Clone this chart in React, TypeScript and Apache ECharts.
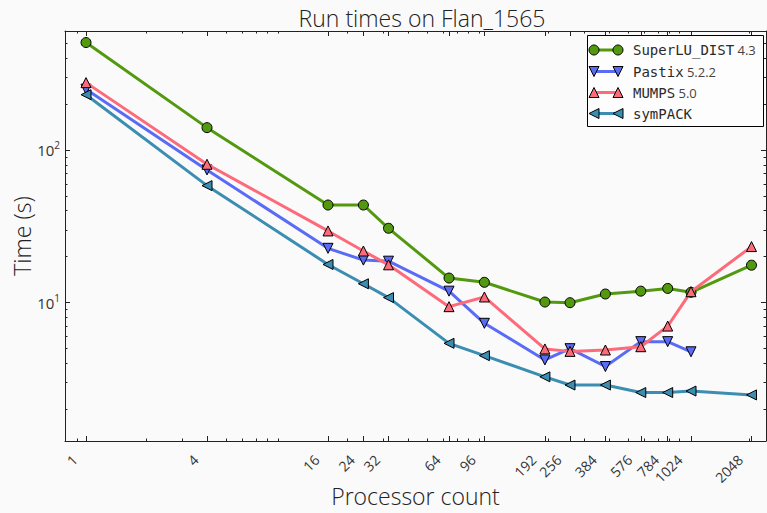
import React, { useEffect, useRef } from "react";
import * as echarts from "echarts";

// ---- data ----
const procs = [1, 4, 16, 24, 32, 64, 96, 192, 256, 384, 576, 784, 1024, 2048];
const superluTimes = [505, 140, 43.6, 43.6, 30.7, 14.5, 13.6, 10.1, 10.0, 11.4, 11.9, 12.4, 11.7, 17.6];
const pastixTimes = [250, 74, 22.7, 19.0, 18.7, 11.9, 7.33, 4.22, 5.0, 3.82, 5.56, 5.56, 4.77, null];
const mumpsTimes = [276, 80.6, 29.5, 21.8, 17.7, 9.42, 10.9, 4.98, 4.8, 4.9, 5.15, 7.03, 11.8, 23.3];
const sympackTimes = [230, 58.4, 17.8, 13.3, 10.8, 5.42, 4.5, 3.27, 2.89, 2.89, 2.58, 2.58, 2.64, 2.49];

const xTickValues = [1, 4, 16, 24, 32, 64, 96, 192, 256, 384, 576, 784, 1024, 2048];
const xMinorTickValues = [0.9, 2, 3, 5, 6, 7, 8, 9, 20, 30, 40, 50, 60, 70, 80, 90, 200, 300, 400, 500, 600, 700, 800, 900, 2000];
const yTickValues = [10, 100];
const yMinorTickValues = [2, 3, 4, 5, 6, 7, 8, 9, 20, 30, 40, 50, 60, 70, 80, 90, 200, 300, 400, 500];

const seriesNames = ["SuperLU_DIST", "Pastix", "MUMPS", "symPACK"];
const seriesVersions = ["4.3", "5.2.2", "5.0", ""];
const titleText = "Run times on Flan_1565";
const xAxisTitle = "Processor count";
const yAxisTitle = "Time (s)";

// ---- styles ----
const X_MIN = 0.786;
const X_MAX = 2418;
const Y_MIN = 1.243;
const Y_MAX = 601;
const AXIS_COLOR = "#222";
const SANS = "'Open Sans', 'Noto Sans', sans-serif";
const MONO = "'DejaVu Sans Mono', monospace";
const colors = ["#52990f", "#5a6cf6", "#fd6b7b", "#3b8db2"];
const symbols = ["circle", "triangle", "triangle", "triangle"];
const rotations = [0, 180, 0, 90];
const allTimes = [superluTimes, pastixTimes, mumpsTimes, sympackTimes];

function xAxisDef(position: string, ticks: number[], len: number, showLine: boolean, showLabel: boolean) {
  return {
    type: "log",
    logBase: 2,
    min: X_MIN,
    max: X_MAX,
    position,
    gridIndex: 0,
    axisLine: { show: showLine, onZero: false, lineStyle: { color: AXIS_COLOR, width: 1 } },
    axisTick: { show: true, inside: true, length: len, customValues: ticks, lineStyle: { color: AXIS_COLOR, width: 1 } },
    axisLabel: showLabel
      ? {
          show: true,
          customValues: ticks,
          rotate: 45,
          margin: 5,
          padding: [0, 16, 0, 0],
          fontSize: 14,
          fontFamily: SANS,
          fontWeight: "normal",
          color: "#333",
          formatter: (v: number) => String(Math.round(v)),
        }
      : { show: false },
    splitLine: { show: false },
    minorTick: { show: false },
    minorSplitLine: { show: false },
  };
}

function yAxisDef(position: string, ticks: number[], len: number, showLine: boolean, showLabel: boolean) {
  return {
    type: "log",
    logBase: 10,
    min: Y_MIN,
    max: Y_MAX,
    position,
    gridIndex: 0,
    axisLine: { show: showLine, onZero: false, lineStyle: { color: AXIS_COLOR, width: 1 } },
    axisTick: { show: true, inside: true, length: len, customValues: ticks, lineStyle: { color: AXIS_COLOR, width: 1 } },
    axisLabel: showLabel
      ? {
          show: true,
          customValues: ticks,
          margin: 5,
          color: "#333",
          formatter: (v: number) => `{b|10}{s|${Math.round(Math.log10(v))}}`,
          rich: {
            b: { fontSize: 15, fontFamily: SANS, fontWeight: "normal", color: "#333", lineHeight: 20 },
            s: { fontSize: 10, fontFamily: SANS, fontWeight: "normal", color: "#333", verticalAlign: "top", lineHeight: 12 },
          },
        }
      : { show: false },
    splitLine: { show: false },
    minorTick: { show: false },
    minorSplitLine: { show: false },
  };
}

function markerGraphic(kind: number, cx: number, cy: number) {
  const style = { fill: colors[kind], stroke: "#000", lineWidth: 1 };
  const r = 5;
  if (kind === 0) return { type: "circle", shape: { cx, cy, r }, style, z: 102 };
  let pts: number[][];
  if (kind === 1) pts = [[cx - r, cy - r], [cx + r, cy - r], [cx, cy + r]];
  else if (kind === 2) pts = [[cx - r, cy + r], [cx + r, cy + r], [cx, cy - r]];
  else pts = [[cx - r, cy], [cx + r, cy - r], [cx + r, cy + r]];
  return { type: "polygon", shape: { points: pts }, style, z: 102 };
}

function buildLegend() {
  const left = 587;
  const top = 35;
  const rowY = [50, 71.5, 92.5, 113.5];
  const x1 = 594;
  const x2 = 618;
  const children: any[] = [
    {
      type: "rect",
      shape: { x: left + 0.5, y: top + 0.5, width: 176, height: 91 },
      style: { fill: "#fdfdfd", stroke: "#000", lineWidth: 1 },
      z: 100,
    },
  ];
  seriesNames.forEach((name, i) => {
    const y = rowY[i];
    children.push({
      type: "line",
      shape: { x1, y1: y, x2, y2: y },
      style: { stroke: colors[i], lineWidth: 3 },
      z: 101,
    });
    children.push(markerGraphic(i, x1, y));
    children.push(markerGraphic(i, x2, y));
    children.push({
      type: "text",
      x: 633,
      y,
      style: {
        text: seriesVersions[i] ? `{m|${name}} {v|${seriesVersions[i]}}` : `{m|${name}}`,
        verticalAlign: "middle",
        fontWeight: "normal",
        rich: {
          m: { fontFamily: MONO, fontSize: 14, fontWeight: "normal", fill: "#2a2a2a", color: "#2a2a2a" },
          v: { fontFamily: SANS, fontSize: 13, fontWeight: "normal", fill: "#444", color: "#444" },
        },
      },
      z: 103,
    });
  });
  return children;
}

const nameFont = { fontFamily: SANS, fontSize: 23, fontWeight: 300, fill: "#222", lineHeight: 24 };

function buildAxisNames() {
  return [
    {
      type: "text",
      x: 415.5,
      y: 496,
      style: { ...nameFont, text: xAxisTitle, align: "center", verticalAlign: "middle" },
    },
    {
      type: "text",
      x: 22,
      y: 236,
      rotation: Math.PI / 2,
      style: { ...nameFont, text: yAxisTitle, align: "center", verticalAlign: "middle" },
    },
  ];
}

export default function App() {
  const ref = useRef<HTMLDivElement>(null);
  useEffect(() => {
    if (!ref.current) return;
    const chart = echarts.init(ref.current, null, { renderer: "svg" });
    const series = allTimes.map((arr, i) => ({
      name: seriesNames[i],
      type: "line",
      xAxisIndex: 0,
      yAxisIndex: 0,
      data: procs.map((p, j) => [p, arr[j]]).filter((d) => d[1] !== null),
      symbol: symbols[i],
      symbolRotate: rotations[i],
      symbolSize: 10,
      showAllSymbol: true,
      lineStyle: { color: colors[i], width: 3 },
      itemStyle: { color: colors[i], borderColor: "#000", borderWidth: 1 },
      z: 10 + i,
      emphasis: { disabled: true },
    }));
    chart.setOption({
      animation: false,
      backgroundColor: "#fafafa",
      title: {
        text: titleText,
        left: 417,
        top: 1,
        textAlign: "center",
        textStyle: { fontFamily: SANS, fontSize: 23, fontWeight: 300, color: "#222", lineHeight: 24 },
      },
      grid: { left: 65, right: 1, top: 31, bottom: 72, outerBoundsMode: "none", containLabel: false },
      xAxis: [
        xAxisDef("bottom", xTickValues, 5, true, true),
        xAxisDef("bottom", xMinorTickValues, 2.5, false, false),
        xAxisDef("top", xTickValues, 5, true, false),
        xAxisDef("top", xMinorTickValues, 2.5, false, false),
      ],
      yAxis: [
        yAxisDef("left", yTickValues, 5, true, true),
        yAxisDef("left", yMinorTickValues, 2.5, false, false),
        yAxisDef("right", yTickValues, 5, true, false),
        yAxisDef("right", yMinorTickValues, 2.5, false, false),
      ],
      series,
      graphic: [...buildLegend(), ...buildAxisNames()],
    });
    return () => chart.dispose();
  }, []);
  return (
    <div
      ref={ref}
      style={{ position: "fixed", left: 0, top: 0, width: 767, height: 513, background: "#fafafa" }}
    />
  );
}
